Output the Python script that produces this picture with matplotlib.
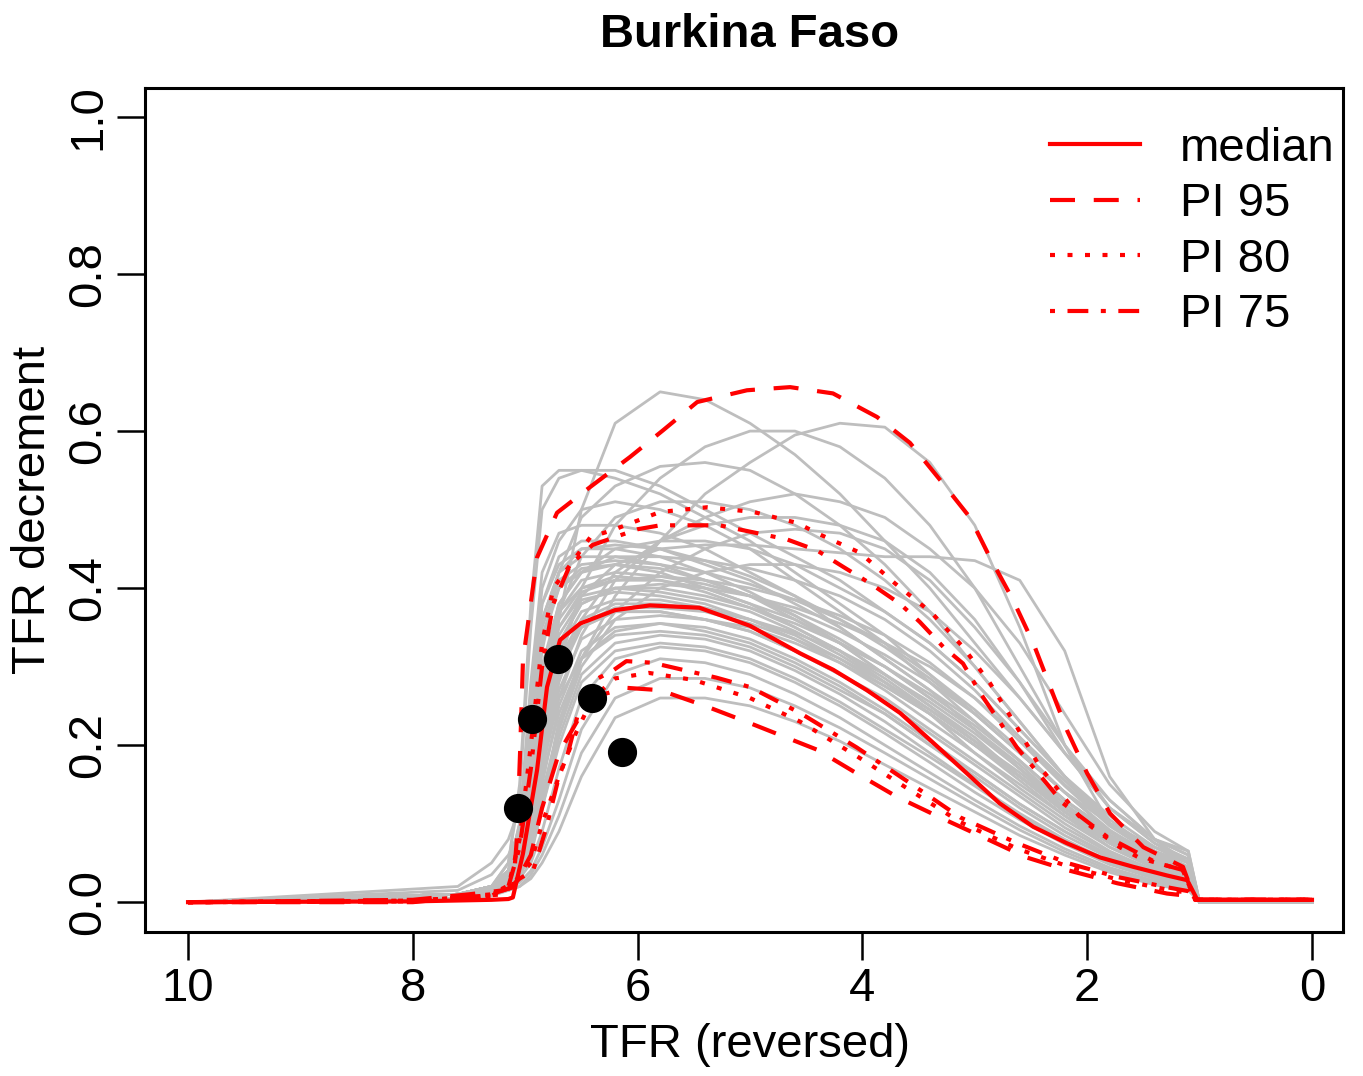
import matplotlib
matplotlib.use("Agg")
import matplotlib.pyplot as plt

plt.rcParams['font.family'] = ['Liberation Sans', 'DejaVu Sans']

# --- data ---
# shared TFR grid for the gray trajectories (reversed TFR axis)
tfr_grid = [7.6, 7.3, 7.15, 7.05, 6.95, 6.85, 6.7, 6.5, 6.2, 5.8, 5.4, 5.0,
            4.6, 4.2, 3.8, 3.4, 3.0, 2.6, 2.2, 1.8, 1.4, 1.1]
tfr_head = [10.0]
tfr_tail = [1.0, 0.0]

gray_curves = [
    [0.005, 0.01, 0.02, 0.05, 0.12, 0.22, 0.36, 0.50, 0.61, 0.65, 0.64, 0.61, 0.57, 0.52, 0.46, 0.40, 0.33, 0.26, 0.19, 0.13, 0.08, 0.05],
    [0.003, 0.008, 0.015, 0.03, 0.07, 0.13, 0.22, 0.31, 0.39, 0.46, 0.52, 0.56, 0.595, 0.61, 0.605, 0.56, 0.48, 0.35, 0.20, 0.10, 0.07, 0.055],
    [0.003, 0.01, 0.02, 0.05, 0.12, 0.22, 0.32, 0.39, 0.43, 0.45, 0.455, 0.455, 0.45, 0.445, 0.44, 0.44, 0.435, 0.41, 0.32, 0.16, 0.08, 0.06],
    [0.01, 0.02, 0.05, 0.15, 0.38, 0.53, 0.55, 0.55, 0.54, 0.52, 0.49, 0.46, 0.42, 0.38, 0.34, 0.29, 0.24, 0.19, 0.14, 0.10, 0.07, 0.05],
    [0.01, 0.02, 0.05, 0.14, 0.35, 0.50, 0.54, 0.55, 0.55, 0.53, 0.50, 0.47, 0.44, 0.41, 0.37, 0.33, 0.28, 0.22, 0.16, 0.11, 0.07, 0.05],
    [0.005, 0.01, 0.02, 0.05, 0.12, 0.20, 0.30, 0.40, 0.48, 0.54, 0.58, 0.60, 0.60, 0.58, 0.54, 0.48, 0.40, 0.30, 0.20, 0.12, 0.075, 0.05],
    [0.005, 0.01, 0.03, 0.08, 0.20, 0.32, 0.42, 0.49, 0.53, 0.555, 0.56, 0.55, 0.52, 0.48, 0.43, 0.37, 0.30, 0.23, 0.16, 0.10, 0.065, 0.045],
    [0.005, 0.01, 0.02, 0.05, 0.10, 0.17, 0.26, 0.34, 0.41, 0.46, 0.49, 0.51, 0.52, 0.51, 0.49, 0.45, 0.40, 0.33, 0.24, 0.15, 0.09, 0.065],
    [0.01, 0.02, 0.04, 0.10, 0.28, 0.42, 0.47, 0.48, 0.48, 0.47, 0.45, 0.42, 0.39, 0.35, 0.31, 0.27, 0.22, 0.17, 0.12, 0.08, 0.05, 0.035],
    [0.01, 0.02, 0.04, 0.09, 0.25, 0.38, 0.44, 0.46, 0.46, 0.45, 0.43, 0.41, 0.38, 0.35, 0.31, 0.27, 0.23, 0.18, 0.13, 0.09, 0.06, 0.04],
    [0.01, 0.02, 0.04, 0.08, 0.22, 0.36, 0.42, 0.44, 0.44, 0.43, 0.41, 0.39, 0.36, 0.33, 0.29, 0.25, 0.21, 0.16, 0.12, 0.08, 0.05, 0.035],
    [0.01, 0.02, 0.04, 0.08, 0.20, 0.33, 0.40, 0.42, 0.43, 0.42, 0.40, 0.38, 0.35, 0.32, 0.28, 0.24, 0.19, 0.15, 0.11, 0.07, 0.045, 0.03],
    [0.01, 0.02, 0.035, 0.07, 0.18, 0.30, 0.37, 0.40, 0.41, 0.41, 0.40, 0.38, 0.36, 0.33, 0.30, 0.26, 0.22, 0.17, 0.12, 0.08, 0.05, 0.035],
    [0.01, 0.02, 0.03, 0.06, 0.15, 0.27, 0.35, 0.39, 0.40, 0.395, 0.385, 0.37, 0.345, 0.315, 0.28, 0.24, 0.20, 0.155, 0.11, 0.075, 0.045, 0.03],
    [0.01, 0.02, 0.03, 0.05, 0.12, 0.23, 0.32, 0.37, 0.385, 0.385, 0.375, 0.36, 0.335, 0.305, 0.27, 0.23, 0.19, 0.145, 0.105, 0.07, 0.043, 0.028],
    [0.01, 0.015, 0.025, 0.045, 0.10, 0.19, 0.29, 0.35, 0.37, 0.37, 0.36, 0.345, 0.32, 0.29, 0.255, 0.215, 0.175, 0.135, 0.095, 0.063, 0.04, 0.026],
    [0.01, 0.015, 0.025, 0.04, 0.08, 0.15, 0.25, 0.32, 0.35, 0.355, 0.345, 0.33, 0.305, 0.275, 0.24, 0.20, 0.16, 0.12, 0.085, 0.056, 0.035, 0.024],
    [0.01, 0.015, 0.02, 0.035, 0.06, 0.12, 0.21, 0.29, 0.33, 0.34, 0.335, 0.32, 0.295, 0.265, 0.23, 0.19, 0.15, 0.113, 0.08, 0.052, 0.032, 0.022],
    [0.01, 0.015, 0.02, 0.03, 0.05, 0.09, 0.17, 0.26, 0.31, 0.325, 0.32, 0.305, 0.28, 0.25, 0.215, 0.178, 0.14, 0.105, 0.074, 0.048, 0.03, 0.02],
    [0.01, 0.012, 0.018, 0.025, 0.04, 0.07, 0.13, 0.22, 0.29, 0.31, 0.305, 0.29, 0.265, 0.235, 0.20, 0.165, 0.13, 0.097, 0.068, 0.044, 0.027, 0.018],
    [0.01, 0.012, 0.015, 0.02, 0.03, 0.05, 0.09, 0.16, 0.235, 0.26, 0.26, 0.25, 0.23, 0.205, 0.175, 0.145, 0.115, 0.085, 0.06, 0.038, 0.022, 0.015],
    [0.01, 0.012, 0.015, 0.02, 0.035, 0.06, 0.11, 0.19, 0.26, 0.285, 0.285, 0.273, 0.25, 0.222, 0.19, 0.157, 0.124, 0.092, 0.064, 0.041, 0.025, 0.017],
    [0.005, 0.01, 0.02, 0.04, 0.09, 0.16, 0.24, 0.31, 0.37, 0.42, 0.45, 0.47, 0.475, 0.47, 0.45, 0.41, 0.35, 0.28, 0.20, 0.13, 0.08, 0.06],
    [0.005, 0.01, 0.02, 0.04, 0.08, 0.14, 0.22, 0.30, 0.36, 0.40, 0.42, 0.43, 0.43, 0.42, 0.40, 0.37, 0.32, 0.26, 0.19, 0.12, 0.075, 0.055],
    [0.01, 0.02, 0.04, 0.10, 0.26, 0.40, 0.46, 0.50, 0.51, 0.50, 0.48, 0.45, 0.41, 0.37, 0.33, 0.28, 0.23, 0.18, 0.13, 0.09, 0.055, 0.04],
    [0.01, 0.015, 0.03, 0.06, 0.14, 0.25, 0.33, 0.38, 0.40, 0.405, 0.40, 0.39, 0.375, 0.355, 0.33, 0.30, 0.26, 0.21, 0.155, 0.10, 0.06, 0.04],
    [0.01, 0.015, 0.03, 0.06, 0.16, 0.29, 0.38, 0.42, 0.45, 0.46, 0.46, 0.45, 0.43, 0.40, 0.37, 0.33, 0.28, 0.22, 0.16, 0.105, 0.065, 0.045],
    [0.01, 0.02, 0.035, 0.07, 0.17, 0.30, 0.37, 0.41, 0.42, 0.415, 0.405, 0.39, 0.37, 0.345, 0.315, 0.28, 0.24, 0.19, 0.14, 0.09, 0.055, 0.038],
    [0.01, 0.02, 0.035, 0.07, 0.16, 0.28, 0.36, 0.40, 0.415, 0.41, 0.395, 0.375, 0.35, 0.32, 0.285, 0.245, 0.205, 0.16, 0.115, 0.075, 0.047, 0.032],
    [0.01, 0.02, 0.03, 0.06, 0.14, 0.26, 0.34, 0.385, 0.395, 0.39, 0.38, 0.36, 0.34, 0.31, 0.275, 0.24, 0.20, 0.16, 0.115, 0.076, 0.048, 0.033],
    [0.01, 0.02, 0.04, 0.08, 0.20, 0.34, 0.40, 0.425, 0.43, 0.425, 0.41, 0.39, 0.365, 0.335, 0.30, 0.26, 0.22, 0.175, 0.125, 0.082, 0.05, 0.035],
    [0.01, 0.02, 0.04, 0.09, 0.23, 0.36, 0.42, 0.45, 0.455, 0.45, 0.435, 0.415, 0.39, 0.36, 0.325, 0.285, 0.24, 0.19, 0.14, 0.09, 0.056, 0.04],
    [0.01, 0.015, 0.025, 0.05, 0.11, 0.21, 0.30, 0.355, 0.375, 0.375, 0.37, 0.355, 0.335, 0.31, 0.28, 0.245, 0.205, 0.165, 0.12, 0.08, 0.05, 0.034],
    [0.01, 0.015, 0.025, 0.045, 0.09, 0.17, 0.27, 0.335, 0.36, 0.365, 0.36, 0.35, 0.33, 0.305, 0.275, 0.24, 0.20, 0.16, 0.115, 0.077, 0.048, 0.032],
    [0.01, 0.015, 0.02, 0.04, 0.07, 0.13, 0.23, 0.31, 0.345, 0.355, 0.35, 0.335, 0.31, 0.28, 0.245, 0.205, 0.165, 0.125, 0.09, 0.058, 0.036, 0.025],
    [0.01, 0.02, 0.035, 0.07, 0.17, 0.30, 0.38, 0.42, 0.44, 0.44, 0.435, 0.425, 0.41, 0.39, 0.36, 0.32, 0.27, 0.21, 0.15, 0.10, 0.062, 0.043],
    [0.01, 0.02, 0.03, 0.06, 0.15, 0.27, 0.35, 0.395, 0.41, 0.415, 0.41, 0.40, 0.385, 0.365, 0.34, 0.305, 0.26, 0.205, 0.148, 0.097, 0.06, 0.042],
    [0.01, 0.02, 0.04, 0.09, 0.24, 0.38, 0.43, 0.45, 0.45, 0.44, 0.42, 0.395, 0.365, 0.33, 0.29, 0.25, 0.205, 0.16, 0.115, 0.077, 0.047, 0.033],
    [0.01, 0.015, 0.025, 0.05, 0.12, 0.22, 0.31, 0.36, 0.38, 0.38, 0.372, 0.36, 0.343, 0.32, 0.29, 0.255, 0.215, 0.17, 0.125, 0.083, 0.052, 0.036],
    [0.01, 0.015, 0.02, 0.035, 0.065, 0.12, 0.20, 0.28, 0.32, 0.33, 0.325, 0.31, 0.285, 0.255, 0.22, 0.185, 0.148, 0.11, 0.078, 0.05, 0.031, 0.021],
    [0.01, 0.02, 0.03, 0.06, 0.14, 0.25, 0.33, 0.38, 0.40, 0.40, 0.39, 0.375, 0.355, 0.33, 0.30, 0.265, 0.225, 0.18, 0.13, 0.086, 0.053, 0.037],
    [0.01, 0.02, 0.04, 0.08, 0.21, 0.35, 0.41, 0.43, 0.435, 0.43, 0.42, 0.405, 0.385, 0.36, 0.33, 0.29, 0.245, 0.195, 0.14, 0.092, 0.057, 0.04],
    [0.005, 0.01, 0.02, 0.04, 0.10, 0.18, 0.28, 0.36, 0.42, 0.46, 0.48, 0.49, 0.49, 0.48, 0.46, 0.42, 0.36, 0.28, 0.19, 0.12, 0.08, 0.065],
    [0.005, 0.01, 0.025, 0.06, 0.15, 0.27, 0.37, 0.44, 0.49, 0.51, 0.51, 0.50, 0.48, 0.45, 0.41, 0.36, 0.30, 0.23, 0.16, 0.10, 0.065, 0.05],
    [0.02, 0.05, 0.08, 0.12, 0.18, 0.25, 0.31, 0.35, 0.37, 0.37, 0.36, 0.345, 0.32, 0.29, 0.26, 0.22, 0.18, 0.14, 0.10, 0.065, 0.04, 0.028],
    [0.015, 0.035, 0.06, 0.09, 0.13, 0.19, 0.26, 0.31, 0.34, 0.345, 0.34, 0.325, 0.30, 0.27, 0.24, 0.20, 0.165, 0.125, 0.09, 0.06, 0.037, 0.025],
]

median_tfr = [10, 8.0, 7.3, 7.15, 7.11, 7.02, 6.895, 6.806, 6.69, 6.51, 6.2, 5.89, 5.45, 5.0,
              4.555, 4.26, 3.96, 3.665, 3.37, 3.07, 2.78, 2.48, 2.18, 1.886, 1.59, 1.29, 1.11, 1.02, 0]
median_val = [0, 0.001, 0.003, 0.004, 0.006, 0.062, 0.168, 0.274, 0.334, 0.355, 0.372, 0.378, 0.375, 0.352,
              0.317, 0.296, 0.27, 0.241, 0.203, 0.164, 0.126, 0.096, 0.075, 0.057, 0.045, 0.034, 0.028, 0.003, 0.003]

pi95_up_tfr = [10, 8.0, 7.5, 7.2, 7.108, 7.073, 7.046, 7.02, 6.895, 6.717, 6.42, 6.068, 5.774, 5.47, 5.027,
               4.644, 4.262, 3.87, 3.577, 3.31, 3.043, 2.865, 2.66, 2.48, 2.18, 2.0, 1.797, 1.5, 1.148, 1.04, 0]
pi95_up_val = [0, 0.003, 0.01, 0.015, 0.019, 0.083, 0.19, 0.308, 0.439, 0.496, 0.529, 0.567, 0.601, 0.637, 0.652,
               0.656, 0.648, 0.618, 0.585, 0.538, 0.49, 0.439, 0.385, 0.33, 0.219, 0.164, 0.113, 0.07, 0.045, 0.003, 0.003]
pi95_lo_tfr = [10, 8.0, 7.3, 7.1, 6.95, 6.85, 6.7, 6.5, 6.3, 6.1, 5.8, 5.4, 5.0, 4.4, 4.05, 3.69,
               3.31, 2.93, 2.54, 2.18, 1.73, 1.29, 1.1, 1.02, 0]
pi95_lo_val = [0, 0.0, 0.01, 0.02, 0.06, 0.12, 0.19, 0.24, 0.265, 0.273, 0.27, 0.25, 0.228, 0.194, 0.164, 0.134,
               0.108, 0.083, 0.057, 0.041, 0.024, 0.011, 0.008, 0.003, 0.003]

pi80_up_tfr = [10, 8.0, 7.3, 7.15, 7.05, 6.95, 6.85, 6.75, 6.42, 6.22, 5.8, 5.38, 4.97, 4.58, 4.404, 4.02,
               3.71, 3.38, 3.105, 2.865, 2.625, 2.42, 2.04, 1.71, 1.53, 1.15, 1.04, 0]
pi80_up_val = [0, 0.002, 0.008, 0.02, 0.08, 0.2, 0.33, 0.40, 0.465, 0.474, 0.497, 0.503, 0.497, 0.483, 0.47, 0.445,
               0.406, 0.368, 0.325, 0.279, 0.223, 0.172, 0.104, 0.07, 0.056, 0.041, 0.003, 0.003]
pi80_lo_tfr = [10, 8.0, 7.3, 7.1, 6.95, 6.85, 6.7, 6.55, 6.4, 6.2, 5.9, 5.5, 5.0, 4.555, 4.05, 3.58,
               3.13, 2.62, 2.18, 1.73, 1.29, 1.1, 1.02, 0]
pi80_lo_val = [0, 0.001, 0.01, 0.025, 0.05, 0.1, 0.16, 0.215, 0.26, 0.285, 0.292, 0.283, 0.26, 0.23, 0.186, 0.143,
               0.102, 0.068, 0.046, 0.029, 0.016, 0.012, 0.003, 0.003]

pi75_up_tfr = [10, 8.0, 7.3, 7.15, 7.05, 6.95, 6.85, 6.75, 6.6, 6.4, 6.0, 5.8, 5.27, 4.67, 4.404, 4.17,
               3.93, 3.665, 3.49, 3.28, 3.105, 2.95, 2.625, 2.215, 1.82, 1.38, 1.15, 1.04, 0]
pi75_up_val = [0, 0.002, 0.008, 0.02, 0.07, 0.17, 0.3, 0.38, 0.43, 0.455, 0.475, 0.48, 0.48, 0.462, 0.448, 0.427,
               0.406, 0.38, 0.357, 0.325, 0.304, 0.266, 0.197, 0.126, 0.083, 0.05, 0.041, 0.003, 0.003]
pi75_lo_tfr = [10, 8.0, 7.2, 7.05, 6.93, 6.81, 6.7, 6.62, 6.53, 6.38, 6.22, 6.1, 5.87, 5.6, 5.3, 5.0,
               4.555, 4.05, 3.58, 3.13, 2.62, 2.18, 1.73, 1.29, 1.1, 1.02, 0]
pi75_lo_val = [0, 0.001, 0.01, 0.03, 0.04, 0.096, 0.16, 0.19, 0.24, 0.283, 0.295, 0.307, 0.305, 0.296, 0.286, 0.274,
               0.241, 0.197, 0.152, 0.108, 0.075, 0.05, 0.032, 0.019, 0.014, 0.003, 0.003]

obs_tfr = [7.064, 6.94, 6.708, 6.41, 6.14]
obs_val = [0.120, 0.233, 0.310, 0.260, 0.191]

# --- figure ---
fig = plt.figure(figsize=(13.63, 10.76), dpi=100)
ax = fig.add_axes([145 / 1363, 1 - 932 / 1076, 1198 / 1363, 844 / 1076])

for vals in gray_curves:
    ax.plot(tfr_head + tfr_grid + tfr_tail, [0] + vals + [0, 0], color='#BEBEBE', lw=2.0)

red = '#FF0000'
lw = 3.0
ax.plot(median_tfr, median_val, color=red, lw=lw, label='median')
ax.plot(pi95_up_tfr, pi95_up_val, color=red, lw=lw, ls=(0, (6, 4.5)), label='PI 95')
ax.plot(pi95_lo_tfr, pi95_lo_val, color=red, lw=lw, ls=(0, (6, 4.5)))
ax.plot(pi80_up_tfr, pi80_up_val, color=red, lw=lw, ls=(0, (1.2, 3)), label='PI 80')
ax.plot(pi80_lo_tfr, pi80_lo_val, color=red, lw=lw, ls=(0, (1.2, 3)))
ax.plot(pi75_up_tfr, pi75_up_val, color=red, lw=lw, ls=(0, (1.2, 3, 5, 3)), label='PI 75')
ax.plot(pi75_lo_tfr, pi75_lo_val, color=red, lw=lw, ls=(0, (1.2, 3, 5, 3)))

ax.plot(obs_tfr, obs_val, 'o', color='black', ms=20, zorder=5)

ax.set_xlim(10.383, -0.276)
ax.set_ylim(-0.038, 1.037)
ax.set_xticks([10, 8, 6, 4, 2, 0])
ax.set_yticks([0.0, 0.2, 0.4, 0.6, 0.8, 1.0])
ax.set_yticklabels(['0.0', '0.2', '0.4', '0.6', '0.8', '1.0'], rotation=90, va='center')
ax.tick_params(labelsize=34, length=20, width=1.8, pad=5)
for s in ax.spines.values():
    s.set_linewidth(2.2)

ax.legend(loc='upper right', bbox_to_anchor=(1 + 15 / 1198, 1 - 15 / 844), frameon=False,
          fontsize=34, handlelength=1.9, handletextpad=0.85, labelspacing=0.245,
          borderaxespad=0.2, borderpad=0.3)

fig.text(750 / 1363, 1 - 35 / 1076, 'Burkina Faso', fontsize=34, fontweight='bold',
         ha='center', va='center')
fig.text(750 / 1363, 1 - 1045 / 1076, 'TFR (reversed)', fontsize=34, ha='center', va='center')
fig.text(33 / 1363, 1 - 510 / 1076, 'TFR decrement', fontsize=34, rotation=90,
         ha='center', va='center')

fig.savefig('out.png', dpi=100)
